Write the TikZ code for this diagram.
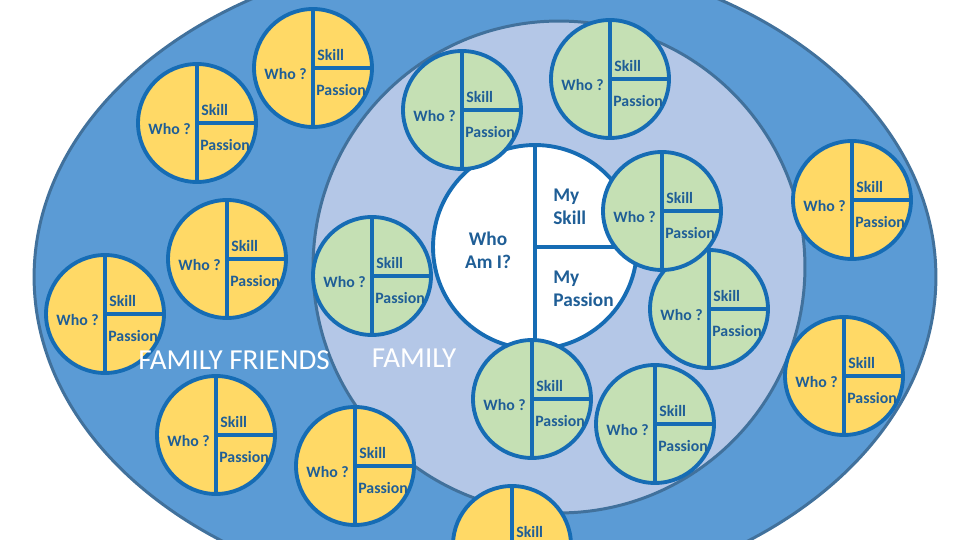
\documentclass[tikz,border=0pt]{standalone}
\usepackage{fontspec}
\setmainfont{Carlito}
\definecolor{outerblue}{HTML}{5B9BD5}
\definecolor{innerblue}{HTML}{B4C7E7}
\definecolor{rimblue}{HTML}{41719C}
\definecolor{lineblue}{HTML}{166CB4}
\definecolor{txtblue}{HTML}{1F5E96}
\definecolor{yel}{HTML}{FFD966}
\definecolor{grn}{HTML}{C5E0B4}
\tikzset{
  person/.style={circle,draw=lineblue,line width=2.2pt,minimum size=2.36cm,inner sep=0pt,outer sep=0pt},
  divline/.style={draw=lineblue,line width=2.2pt},
  lbl/.style={text=txtblue,font=\bfseries\fontsize{9}{10}\selectfont,inner sep=0pt},
  big/.style={text=txtblue,font=\bfseries\fontsize{11}{13}\selectfont,inner sep=0pt},
  ring/.style={text=white,font=\fontsize{16.5}{19}\selectfont,inner sep=0pt}
}
\begin{document}
\begin{tikzpicture}[x=0.02cm,y=-0.02cm]
\useasboundingbox (0,0) rectangle (960,540);
\clip (0,0) rectangle (960,540);
% rings
\draw[fill=outerblue,draw=rimblue,line width=1.7pt] (485,277) ellipse (9.02cm and 6.5cm);
\draw[fill=innerblue,draw=rimblue,line width=1.7pt] (559,267) circle (4.92cm);
% me
\node[person,fill=white,minimum size=4.08cm] (me) at (535,247) {};
\draw[divline] (me.north) -- (me.south) (me.center) -- (me.east);
\node[big,align=center] (whoami) at (488,250) {Who\\Am I?};
\node[big,align=left,anchor=west] (myskill) at (553,207) {My\\Skill};
\node[big,align=left,anchor=west] (mypass) at (553,289) {My\\Passion};
% friends of the family
\foreach \n/\x/\y in {1/313/68,2/197/123,3/227/259,4/105/314,5/216/435,6/355/466,8/852/200,9/844/376}{
  \node[person,fill=yel] (y\n) at (\x,\y) {};
  \draw[divline] (y\n.north) -- (y\n.south) (y\n.center) -- (y\n.east);
  \node[lbl,anchor=east] (y\n-who) at ([shift={(-0.12cm,-0.12cm)}]y\n.center) {Who ?};
  \node[lbl,anchor=west] (y\n-skill) at ([shift={(0.08cm,0.26cm)}]y\n.center) {Skill};
  \node[lbl,anchor=west] (y\n-pass) at ([shift={(0.06cm,-0.44cm)}]y\n.center) {Passion};
}
% only its top shows
\node[person,fill=yel] (y7) at (512,545) {};
\draw[divline] (y7.north) -- (y7.south) (y7.center) -- (y7.east);
\node[lbl,anchor=west] (y7-skill) at ([shift={(0.08cm,0.26cm)}]y7.center) {Skill};
% family
\foreach \n/\x/\y in {1/610/79,2/462/110,3/372/276,4/709/309,5/662/211,6/532/399,7/655/424}{
  \node[person,fill=grn] (g\n) at (\x,\y) {};
  \draw[divline] (g\n.north) -- (g\n.south) (g\n.center) -- (g\n.east);
  \node[lbl,anchor=east] (g\n-who) at ([shift={(-0.12cm,-0.12cm)}]g\n.center) {Who ?};
  \node[lbl,anchor=west] (g\n-skill) at ([shift={(0.08cm,0.26cm)}]g\n.center) {Skill};
  \node[lbl,anchor=west] (g\n-pass) at ([shift={(0.06cm,-0.44cm)}]g\n.center) {Passion};
}
% ring names
\node[ring] (friends) at (234,360) {FAMILY FRIENDS};
\node[ring] (family) at (414,358) {FAMILY};
\end{tikzpicture}
\end{document}
